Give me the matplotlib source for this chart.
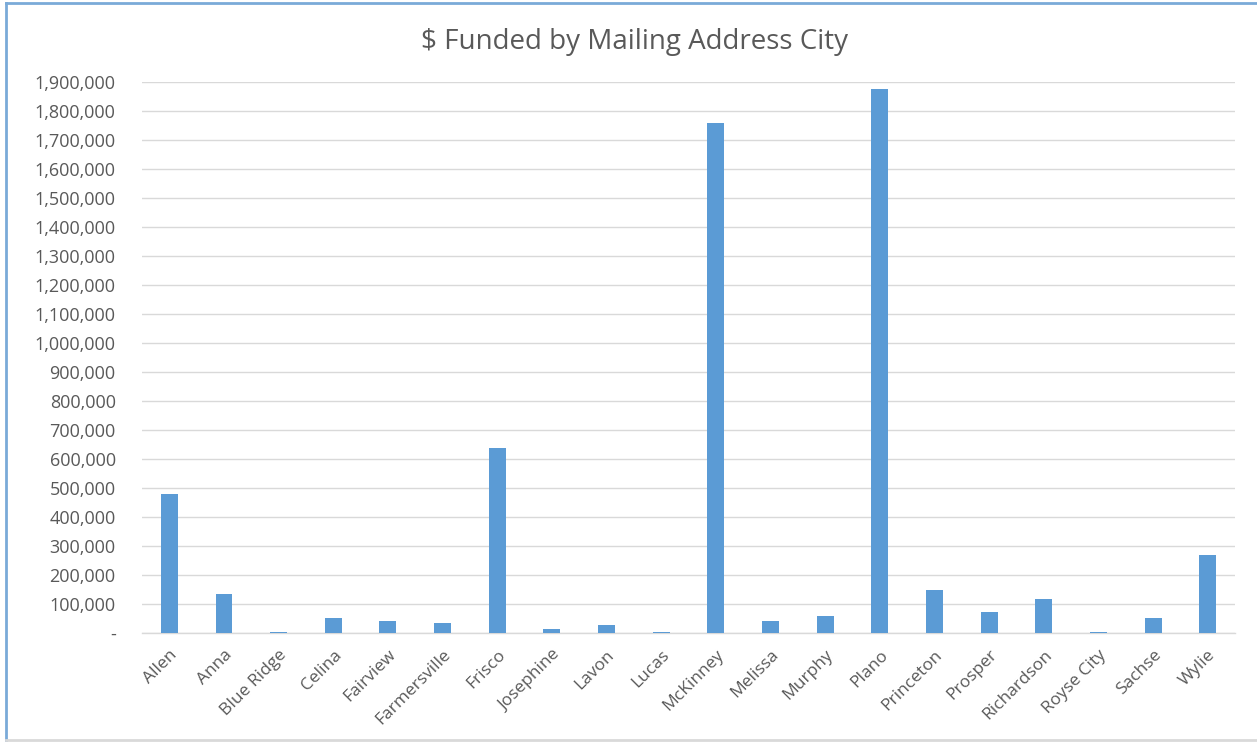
import matplotlib
matplotlib.use("Agg")
import matplotlib.pyplot as plt
from matplotlib.ticker import FuncFormatter, MultipleLocator
from matplotlib.lines import Line2D

cities = ["Allen", "Anna", "Blue Ridge", "Celina", "Fairview", "Farmersville",
          "Frisco", "Josephine", "Lavon", "Lucas", "McKinney", "Melissa",
          "Murphy", "Plano", "Princeton", "Prosper", "Richardson", "Royse City",
          "Sachse", "Wylie"]
funded = [481000, 134000, 3000, 51000, 41000, 34000,
          639000, 14000, 27000, 3000, 1757000, 41000,
          58000, 1875000, 148000, 72000, 117000, 3000,
          51000, 268000]
title = "$ Funded by Mailing Address City"

font = ["Open Sans", "DejaVu Sans"]
plt.rcParams['font.family'] = font
text_color = "#595959"

fig = plt.figure(figsize=(12.57, 7.42), dpi=100)
ax = fig.add_axes([0.113, 0.1469, 0.8695, 0.7426])

x = list(range(len(cities)))
ax.bar(x, funded, width=0.31, color="#5B9BD5", zorder=3)

ax.set_xlim(-0.5, len(cities) - 0.5)
ax.set_ylim(0, 1900000)
ax.yaxis.set_major_locator(MultipleLocator(100000))
ax.yaxis.set_major_formatter(FuncFormatter(lambda v, p: "-" if v == 0 else f"{int(v):,}"))
ax.grid(axis="y", color="#D9D9D9", linewidth=1, zorder=0)
ax.set_axisbelow(True)
for s in ["top", "right", "left"]:
    ax.spines[s].set_visible(False)
ax.spines["bottom"].set_color("#D9D9D9")
ax.spines["bottom"].set_linewidth(1)

ax.set_xticks(x)
ax.set_xticklabels(cities, rotation=45, ha="right", rotation_mode="anchor")
ax.tick_params(axis="x", length=0, pad=10, labelsize=12.5, labelcolor=text_color)
ax.tick_params(axis="y", length=0, pad=19, labelsize=13, labelcolor=text_color)

fig.text(0.5045, 0.944, title, ha="center", va="center", fontsize=20, color=text_color)

# chart border
fig.add_artist(Line2D([0.005, 0.005], [0.003, 0.996], transform=fig.transFigure, color="#7AAAD8", linewidth=2))
fig.add_artist(Line2D([0.005, 0.999], [0.996, 0.996], transform=fig.transFigure, color="#7AAAD8", linewidth=2))
fig.add_artist(Line2D([0.005, 0.999], [0.003, 0.003], transform=fig.transFigure, color="#D9D9D9", linewidth=2))

fig.savefig("out.png", dpi=100)
